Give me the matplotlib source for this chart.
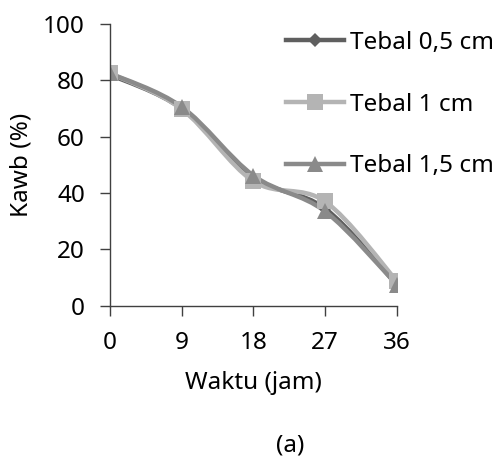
import matplotlib
matplotlib.use("Agg")
import matplotlib.pyplot as plt
from matplotlib.path import Path
from matplotlib.patches import PathPatch
from matplotlib.lines import Line2D
import numpy as np

waktu = [0, 9, 18, 27, 36]
tebal_05 = [82.0, 70.0, 45.5, 34.5, 7.5]
tebal_1 = [82.5, 69.8, 44.2, 37.0, 8.8]
tebal_15 = [82.5, 70.6, 46.2, 33.5, 7.5]
labels = ["Tebal 0,5 cm", "Tebal 1 cm", "Tebal 1,5 cm"]
colors = ["#5f5f5f", "#b4b4b4", "#8a8a8a"]
markers = ["D", "s", "^"]
msizes = [7, 11, 11]

plt.rcParams['font.family'] = ['Noto Sans', 'DejaVu Sans']
FS = 17.5
fig = plt.figure(figsize=(4.99, 4.61), dpi=100)
ax = fig.add_axes([0.2204, 0.3369, 0.795 - 0.2204, 0.948 - 0.3369])


def smooth_path(x, y):
    pts = np.column_stack([x, y]).astype(float)
    n = len(pts)
    verts = [pts[0]]
    codes = [Path.MOVETO]
    for i in range(n - 1):
        p0 = pts[i - 1] if i > 0 else pts[i]
        p1 = pts[i]
        p2 = pts[i + 1]
        p3 = pts[i + 2] if i + 2 < n else pts[i + 1]
        c1 = p1 + (p2 - p0) / 6.0
        c2 = p2 - (p3 - p1) / 6.0
        verts += [c1, c2, p2]
        codes += [Path.CURVE4] * 3
    return Path(verts, codes)


series = [tebal_05, tebal_1, tebal_15]
handles = []
for vals, c, m, ms, lab in zip(series, colors, markers, msizes, labels):
    patch = PathPatch(smooth_path(waktu, vals), facecolor="none", edgecolor=c,
                      lw=3.2, capstyle="round", joinstyle="round")
    ax.add_patch(patch)
    ax.plot(waktu, vals, linestyle="none", marker=m, markersize=ms, color=c,
            markeredgewidth=0)
    handles.append(Line2D([], [], color=c, lw=3.2, marker=m, markersize=ms,
                          markeredgewidth=0, label=lab))

ax.set_xlim(0, 36)
ax.set_ylim(0, 100)
ax.set_xticks(waktu)
ax.set_xticklabels([str(v) for v in waktu])
ax.set_yticks([0, 20, 40, 60, 80, 100])
for s in ["top", "right"]:
    ax.spines[s].set_visible(False)
for s in ["left", "bottom"]:
    ax.spines[s].set_color("#404040")
    ax.spines[s].set_linewidth(1.0)
ax.tick_params(axis="both", direction="out", length=7, width=1.0,
               color="#404040", labelsize=FS)
ax.tick_params(axis="y", pad=11)
ax.tick_params(axis="x", pad=11)
ax.set_xlabel("Waktu (jam)", fontsize=FS, labelpad=12)
ax.set_ylabel("Kawb (%)", fontsize=FS, labelpad=7)
for sp in ax.spines.values():
    sp.set_clip_on(False)

leg = fig.legend(handles=handles, loc="upper left",
                 bbox_to_anchor=(286 / 499, 1 - 31 / 461), frameon=False,
                 fontsize=FS, handlelength=2.4, handletextpad=0.25,
                 labelspacing=1.55, borderpad=0, borderaxespad=0)

fig.text(290 / 499, 1 - 445 / 461, "(a)", ha="center", va="center", fontsize=FS)

fig.savefig("out.png", dpi=100)
